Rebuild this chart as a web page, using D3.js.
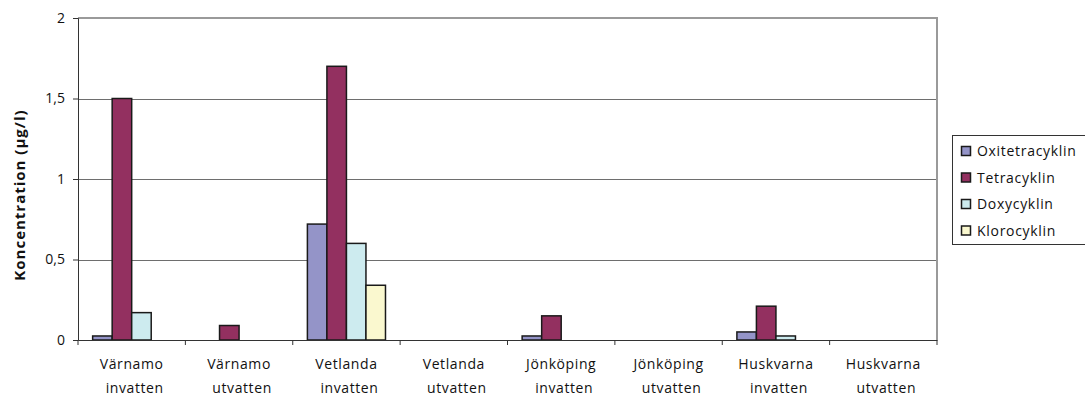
<!DOCTYPE html>
<html>
<head>
<meta charset="utf-8">
<script src="https://cdn.jsdelivr.net/npm/d3@7"></script>
<style>
  body { margin: 0; background: #fff; }
  svg { display: block; font-family: "Open Sans", "Noto Sans", sans-serif; }
</style>
</head>
<body>
<svg id="chart" width="1085" height="398"></svg>
<script>
  // ---- data ----
  const categories = [
    ["Värnamo", "invatten"], ["Värnamo", "utvatten"],
    ["Vetlanda", "invatten"], ["Vetlanda", "utvatten"],
    ["Jönköping", "invatten"], ["Jönköping", "utvatten"],
    ["Huskvarna", "invatten"], ["Huskvarna", "utvatten"]
  ];
  const seriesNames = ["Oxitetracyklin", "Tetracyklin", "Doxycyklin", "Klorocyklin"];
  const oxitetracyklin = [0.025, 0, 0.72, 0, 0.025, 0, 0.05, 0];
  const tetracyklin    = [1.5, 0.09, 1.7, 0, 0.15, 0, 0.21, 0];
  const doxycyklin     = [0.17, 0, 0.6, 0, 0, 0, 0.025, 0];
  const klorocyklin    = [0, 0, 0.34, 0, 0, 0, 0, 0];
  const yTicks = [0, 0.5, 1, 1.5, 2];
  const colors = ["#9494c8", "#933060", "#cdebef", "#faf8cf"];

  const seriesValues = [oxitetracyklin, tetracyklin, doxycyklin, klorocyklin];

  // ---- layout ----
  const svg = d3.select("#chart");
  const plot = { left: 78, right: 937, top: 18, bottom: 340 };

  const x = d3.scaleBand()
    .domain(d3.range(categories.length))
    .range([plot.left, plot.right]);
  const barW = x.bandwidth() / (seriesNames.length + 1.5);
  const y = d3.scaleLinear().domain([0, 2]).range([plot.bottom, plot.top]);

  // gridlines
  svg.append("g").selectAll("line")
    .data(yTicks.filter(t => t > 0 && t < 2))
    .join("line")
    .attr("x1", plot.left).attr("x2", plot.right)
    .attr("y1", d => Math.round(y(d)) + 0.5).attr("y2", d => Math.round(y(d)) + 0.5)
    .attr("stroke", "#6e6e6e").attr("stroke-width", 1);

  // plot border top/right (grey)
  svg.append("path")
    .attr("d", `M${plot.left},${plot.top}H${plot.right}V${plot.bottom}`)
    .attr("fill", "none").attr("stroke", "#9a9a9a").attr("stroke-width", 2);

  // bars
  const groups = svg.append("g").selectAll("g")
    .data(seriesValues)
    .join("g")
    .attr("fill", (d, i) => colors[i]);

  groups.selectAll("rect")
    .data((vals, si) => vals.map((v, ci) => ({ v, ci, si })).filter(d => d.v > 0))
    .join("rect")
    .attr("x", d => x(d.ci) + barW * 0.75 + d.si * barW)
    .attr("y", d => y(d.v))
    .attr("width", barW)
    .attr("height", d => y(0) - y(d.v))
    .attr("stroke", "#1a1a1a")
    .attr("stroke-width", 1.5);

  // y axis
  const yAxis = svg.append("g")
    .attr("transform", `translate(${plot.left},0)`)
    .call(d3.axisLeft(y).tickValues(yTicks).tickSize(5).tickPadding(8)
      .tickFormat(d => d3.format("")(d).replace(".", ",")));
  yAxis.select(".domain").attr("stroke", "#333");
  yAxis.selectAll(".tick line").attr("stroke", "#333");
  yAxis.selectAll("text").attr("font-size", 14).attr("fill", "#111")
    .attr("font-family", "'Open Sans', sans-serif");

  // x axis
  const xAxis = svg.append("g")
    .attr("transform", `translate(0,${plot.bottom})`)
    .call(d3.axisBottom(x).tickSize(0).tickFormat(""));
  xAxis.select(".domain").attr("stroke", "#333");
  svg.append("g").selectAll("line")
    .data(d3.range(categories.length + 1))
    .join("line")
    .attr("x1", d => d < categories.length ? x(d) : plot.right)
    .attr("x2", d => d < categories.length ? x(d) : plot.right)
    .attr("y1", plot.bottom).attr("y2", plot.bottom + 5)
    .attr("stroke", "#333");

  const labels = svg.append("g").selectAll("text")
    .data(categories)
    .join("text")
    .attr("text-anchor", "middle")
    .attr("font-size", 14)
    .attr("letter-spacing", 0.6)
    .attr("fill", "#111");
  labels.append("tspan")
    .attr("x", (d, i) => x(i) + x.bandwidth() / 2)
    .attr("y", 369)
    .text(d => d[0]);
  labels.append("tspan")
    .attr("x", (d, i) => x(i) + x.bandwidth() / 2 + 3)
    .attr("y", 393)
    .text(d => d[1]);

  // y label
  svg.append("text")
    .attr("transform", "translate(25,195) rotate(-90)")
    .attr("text-anchor", "middle")
    .attr("font-size", 15)
    .attr("font-weight", "bold")
    .attr("letter-spacing", 1)
    .attr("fill", "#111")
    .text("Koncentration (µg/l)");

  // legend
  const legend = svg.append("g");
  legend.append("rect")
    .attr("x", 952.5).attr("y", 135.5)
    .attr("width", 140).attr("height", 109)
    .attr("fill", "#fff").attr("stroke", "#333").attr("stroke-width", 1);
  const items = legend.selectAll("g.item")
    .data(seriesNames)
    .join("g")
    .attr("class", "item")
    .attr("transform", (d, i) => `translate(961,${151 + i * 26.5})`);
  items.append("rect")
    .attr("x", 0.5).attr("y", -4.5).attr("width", 9).attr("height", 9)
    .attr("fill", (d, i) => colors[i])
    .attr("stroke", "#1a1a1a").attr("stroke-width", 1.5);
  items.append("text")
    .attr("x", 16).attr("y", 5)
    .attr("font-size", 14)
    .attr("letter-spacing", 0.7)
    .attr("fill", "#111")
    .text(d => d);
</script>
</body>
</html>
